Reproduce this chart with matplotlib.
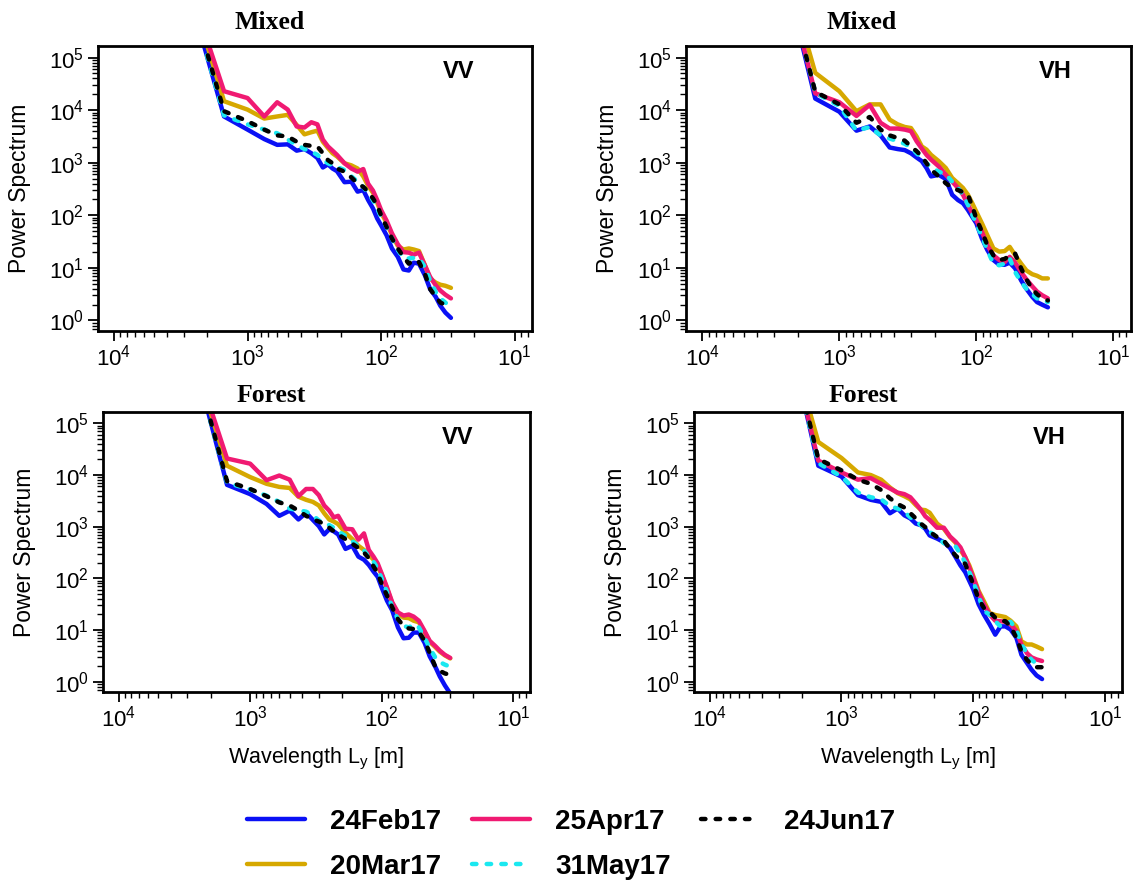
import numpy as np
import matplotlib.pyplot as plt
from matplotlib.ticker import LogLocator, NullFormatter

plt.rcParams['font.family'] = ['Liberation Sans', 'DejaVu Sans']
plt.rcParams['mathtext.fontset'] = 'custom'
plt.rcParams['mathtext.rm'] = 'Liberation Sans'
plt.rcParams['mathtext.it'] = 'Liberation Sans:italic'

# Wavelength grid (m)
wavelength = [3000, 1500, 1000, 750, 600, 500, 429, 375, 333, 300, 273, 250, 231, 214, 188,
              167, 150, 136, 125, 115, 107, 100, 91, 83, 75, 68, 62, 57, 52, 47, 43, 39, 36, 33, 30]

dates = ['24Feb17', '20Mar17', '25Apr17', '31May17', '24Jun17']

# Power spectrum, given as log10 values
mixed_vv_feb = [6.58, 3.88, 3.63, 3.45, 3.34, 3.35, 3.23, 3.26, 3.18, 3.09, 2.91, 2.97, 2.89, 2.84, 2.63, 2.64, 2.45, 2.48,
                2.29, 2.13, 1.94, 1.81, 1.62, 1.37, 1.21, 0.97, 0.95, 1.10, 1.08, 0.86, 0.60, 0.45, 0.28, 0.15, 0.05]
mixed_vv_mar = [6.70, 4.17, 4.01, 3.84, 3.88, 3.91, 3.72, 3.54, 3.58, 3.61, 3.40, 3.28, 3.18, 3.12, 2.99, 2.95, 2.89, 2.74,
                2.56, 2.43, 2.24, 2.05, 1.86, 1.63, 1.42, 1.35, 1.37, 1.35, 1.32, 1.05, 0.80, 0.72, 0.68, 0.66, 0.62]
mixed_vv_apr = [6.67, 4.36, 4.23, 3.88, 4.15, 4.01, 3.69, 3.67, 3.77, 3.73, 3.44, 3.31, 3.23, 3.15, 2.99, 2.89, 2.83, 2.88,
                2.60, 2.47, 2.29, 2.10, 1.90, 1.66, 1.45, 1.30, 1.29, 1.25, 1.29, 1.05, 0.83, 0.67, 0.57, 0.49, 0.42]
mixed_vv_may = [6.58, 3.90, 3.73, 3.63, 3.56, 3.44, 3.34, 3.26, 3.21, 3.15, 3.05, 2.99, 2.95, 2.92, 2.86, 2.74, 2.64, 2.54,
                2.42, 2.29, 2.13, 1.97, 1.78, 1.56, 1.34, 1.19, 1.18, 1.19, 1.18, 1.02, 0.76, 0.54, 0.42, 0.34, 0.25]
mixed_vv_jun = [6.60, 3.98, 3.79, 3.63, 3.52, 3.50, 3.40, 3.34, 3.32, 3.31, 3.18, 3.05, 2.99, 2.89, 2.83, 2.72, 2.61, 2.54,
                2.45, 2.32, 2.19, 2.00, 1.78, 1.56, 1.37, 1.21, 1.08, 1.15, 1.11, 0.89, 0.60, 0.45, 0.34, 0.30, 0.27]

mixed_vh_feb = [7.45, 4.22, 3.97, 3.61, 3.69, 3.52, 3.29, 3.26, 3.24, 3.18, 3.10, 3.03, 2.90, 2.74, 2.77, 2.69, 2.39, 2.29,
                2.23, 2.10, 1.97, 1.85, 1.56, 1.34, 1.15, 1.06, 1.06, 1.10, 0.99, 0.76, 0.60, 0.45, 0.35, 0.30, 0.25]
mixed_vh_mar = [7.47, 4.71, 4.36, 3.98, 4.11, 4.11, 3.82, 3.73, 3.68, 3.66, 3.50, 3.31, 3.25, 3.15, 3.03, 2.90, 2.71, 2.61,
                2.52, 2.39, 2.23, 2.07, 1.85, 1.62, 1.37, 1.31, 1.32, 1.40, 1.24, 1.08, 0.95, 0.88, 0.85, 0.80, 0.80]
mixed_vh_apr = [7.45, 4.32, 4.15, 3.89, 4.10, 3.76, 3.65, 3.65, 3.63, 3.60, 3.41, 3.27, 3.15, 3.06, 2.93, 2.77, 2.64, 2.52,
                2.39, 2.20, 2.04, 1.91, 1.69, 1.43, 1.24, 1.15, 1.11, 1.21, 1.10, 0.92, 0.78, 0.65, 0.55, 0.48, 0.42]
mixed_vh_may = [7.45, 4.33, 4.08, 3.61, 3.68, 3.52, 3.46, 3.41, 3.36, 3.29, 3.18, 3.09, 2.99, 2.91, 2.83, 2.78, 2.64, 2.52,
                2.39, 2.20, 2.01, 1.85, 1.59, 1.34, 1.08, 1.05, 1.08, 1.18, 0.92, 0.73, 0.60, 0.50, 0.42, 0.38, 0.35]
mixed_vh_jun = [7.40, 4.35, 4.11, 3.76, 3.87, 3.63, 3.52, 3.47, 3.42, 3.31, 3.22, 3.12, 2.99, 2.87, 2.74, 2.61, 2.52, 2.48,
                2.44, 2.39, 2.17, 1.94, 1.69, 1.43, 1.24, 1.15, 1.17, 1.24, 1.27, 0.99, 0.78, 0.60, 0.50, 0.42, 0.38]

forest_vv_feb = [6.76, 3.81, 3.63, 3.44, 3.21, 3.31, 3.14, 3.27, 3.13, 3.01, 2.85, 2.95, 2.91, 2.85, 2.57, 2.63, 2.42, 2.36,
                 2.26, 2.13, 2.03, 1.83, 1.57, 1.38, 1.05, 0.84, 0.85, 0.95, 0.95, 0.75, 0.49, 0.29, 0.10, -0.07, -0.23]
forest_vv_mar = [6.65, 4.18, 3.96, 3.83, 3.77, 3.75, 3.58, 3.52, 3.48, 3.41, 3.26, 3.14, 3.10, 3.05, 2.88, 2.76, 2.63, 2.55,
                 2.46, 2.36, 2.23, 2.08, 1.81, 1.52, 1.32, 1.24, 1.23, 1.18, 1.15, 0.96, 0.77, 0.67, 0.58, 0.51, 0.45]
forest_vv_apr = [6.65, 4.32, 4.22, 3.90, 3.99, 3.91, 3.59, 3.73, 3.73, 3.61, 3.41, 3.31, 3.18, 3.21, 2.96, 2.95, 2.75, 2.87,
                 2.55, 2.42, 2.29, 2.10, 1.83, 1.54, 1.34, 1.28, 1.30, 1.26, 1.18, 0.98, 0.79, 0.69, 0.60, 0.52, 0.46]
forest_vv_may = [6.70, 3.85, 3.72, 3.60, 3.48, 3.35, 3.32, 3.29, 3.22, 3.12, 3.08, 3.03, 2.98, 2.91, 2.82, 2.72, 2.63, 2.54,
                 2.42, 2.32, 2.19, 2.00, 1.74, 1.44, 1.21, 1.08, 1.05, 1.11, 1.05, 0.85, 0.65, 0.47, 0.38, 0.33, 0.29]
forest_vv_jun = [6.70, 3.88, 3.73, 3.59, 3.47, 3.41, 3.31, 3.21, 3.14, 3.10, 3.05, 2.98, 2.91, 2.85, 2.76, 2.67, 2.59, 2.50,
                 2.39, 2.23, 2.10, 1.90, 1.67, 1.44, 1.21, 1.08, 1.03, 1.02, 0.97, 0.79, 0.56, 0.29, 0.21, 0.16, 0.13]

forest_vh_feb = [7.60, 4.18, 3.97, 3.61, 3.52, 3.48, 3.26, 3.35, 3.22, 3.16, 3.06, 3.03, 2.96, 2.83, 2.77, 2.70, 2.59, 2.41,
                 2.25, 2.12, 1.95, 1.79, 1.50, 1.30, 1.11, 0.91, 1.07, 1.07, 1.01, 0.85, 0.52, 0.36, 0.23, 0.12, 0.05]
forest_vh_mar = [7.35, 4.64, 4.33, 4.05, 4.00, 3.91, 3.76, 3.65, 3.59, 3.53, 3.42, 3.33, 3.32, 3.27, 3.06, 2.96, 2.80, 2.69,
                 2.55, 2.41, 2.25, 2.05, 1.76, 1.56, 1.33, 1.29, 1.27, 1.25, 1.18, 1.07, 0.78, 0.72, 0.72, 0.68, 0.63]
forest_vh_apr = [7.50, 4.28, 4.05, 3.91, 3.94, 3.83, 3.74, 3.66, 3.63, 3.57, 3.45, 3.33, 3.20, 3.13, 2.98, 2.98, 2.81, 2.71,
                 2.60, 2.41, 2.21, 2.02, 1.73, 1.50, 1.30, 1.18, 1.17, 1.16, 1.11, 0.98, 0.72, 0.55, 0.47, 0.43, 0.40]
forest_vh_may = [7.50, 4.23, 3.97, 3.66, 3.57, 3.53, 3.40, 3.35, 3.29, 3.18, 3.11, 3.03, 2.96, 2.90, 2.80, 2.68, 2.65, 2.62,
                 2.47, 2.31, 2.12, 1.94, 1.66, 1.37, 1.30, 1.17, 1.07, 1.12, 1.16, 1.01, 0.72, 0.55, 0.42, 0.35, 0.32]
forest_vh_jun = [7.50, 4.31, 4.09, 3.91, 3.83, 3.71, 3.55, 3.44, 3.37, 3.26, 3.16, 3.06, 2.99, 2.90, 2.80, 2.73, 2.57, 2.44,
                 2.36, 2.28, 2.08, 1.89, 1.60, 1.43, 1.35, 1.24, 1.18, 1.17, 1.07, 0.85, 0.59, 0.42, 0.33, 0.28, 0.28]

# line style per date
colors = ['#0a10f5', '#d6a800', '#f01a72', '#1ae8f0', 'black']
styles = ['-', '-', '-', (0, (1.0, 2.3)), (0, (1.0, 2.3))]

panels = [
    ('Mixed', 'VV', [mixed_vv_feb, mixed_vv_mar, mixed_vv_apr, mixed_vv_may, mixed_vv_jun]),
    ('Mixed', 'VH', [mixed_vh_feb, mixed_vh_mar, mixed_vh_apr, mixed_vh_may, mixed_vh_jun]),
    ('Forest', 'VV', [forest_vv_feb, forest_vv_mar, forest_vv_apr, forest_vv_may, forest_vv_jun]),
    ('Forest', 'VH', [forest_vh_feb, forest_vh_mar, forest_vh_apr, forest_vh_may, forest_vh_jun]),
]

# axes boxes in pixels: left, right, top, bottom
W, H = 1133, 886
boxes = [(98, 532, 46, 331), (686, 1131, 46, 331), (103, 530, 412, 692), (694, 1122, 412, 692)]

fig = plt.figure(figsize=(W / 100, H / 100), dpi=100)
x = np.array(wavelength)

for i, (title, pol, series) in enumerate(panels):
    l, r, t, b = boxes[i]
    ax = fig.add_axes([l / W, 1 - b / H, (r - l) / W, (b - t) / H])
    for vals, c, ls in zip(series, colors, styles):
        ax.plot(x, 10 ** np.array(vals), color=c, ls=ls, lw=3.2,
                dash_capstyle='round', solid_capstyle='round')
    ax.set_xscale('log')
    ax.set_yscale('log')
    ax.set_xlim(10 ** 4.12, 10 ** 0.87)
    ax.set_ylim(10 ** -0.2, 10 ** 5.22)
    for a in (ax.xaxis, ax.yaxis):
        a.set_major_locator(LogLocator(base=10, numticks=12))
        a.set_minor_locator(LogLocator(base=10, subs=np.arange(2, 10), numticks=12))
        a.set_minor_formatter(NullFormatter())
    ax.tick_params(which='both', direction='out', top=False, right=False, labelsize=16)
    ax.tick_params(which='major', length=7, width=1.3, pad=3)
    ax.tick_params(which='minor', length=4, width=1.0)
    for s in ax.spines.values():
        s.set_linewidth(2)
    ax.set_title(title, fontsize=18.5, fontweight='bold', family='Liberation Serif',
                 pad=12 if i < 2 else 7, x=0.395)
    ax.set_ylabel('Power Spectrum', fontsize=16.5, labelpad=13)
    ax.text(0.83, 0.91, pol, transform=ax.transAxes, fontsize=17, fontweight='bold',
            ha='center', va='center')
    if i >= 2:
        ax.set_xlabel(r'Wavelength L$_{\mathrm{y}}$ [m]', fontsize=15.5, labelpad=10)
    if i == 0:
        handles = ax.get_lines()

fig.legend(handles, dates, ncol=3, loc='center', bbox_to_anchor=(0.504, 0.047), frameon=False,
           prop={'weight': 'bold', 'size': 20}, handlelength=2.1, handletextpad=0.9,
           columnspacing=1.1, labelspacing=0.7)

fig.savefig('out.png', dpi=100)
